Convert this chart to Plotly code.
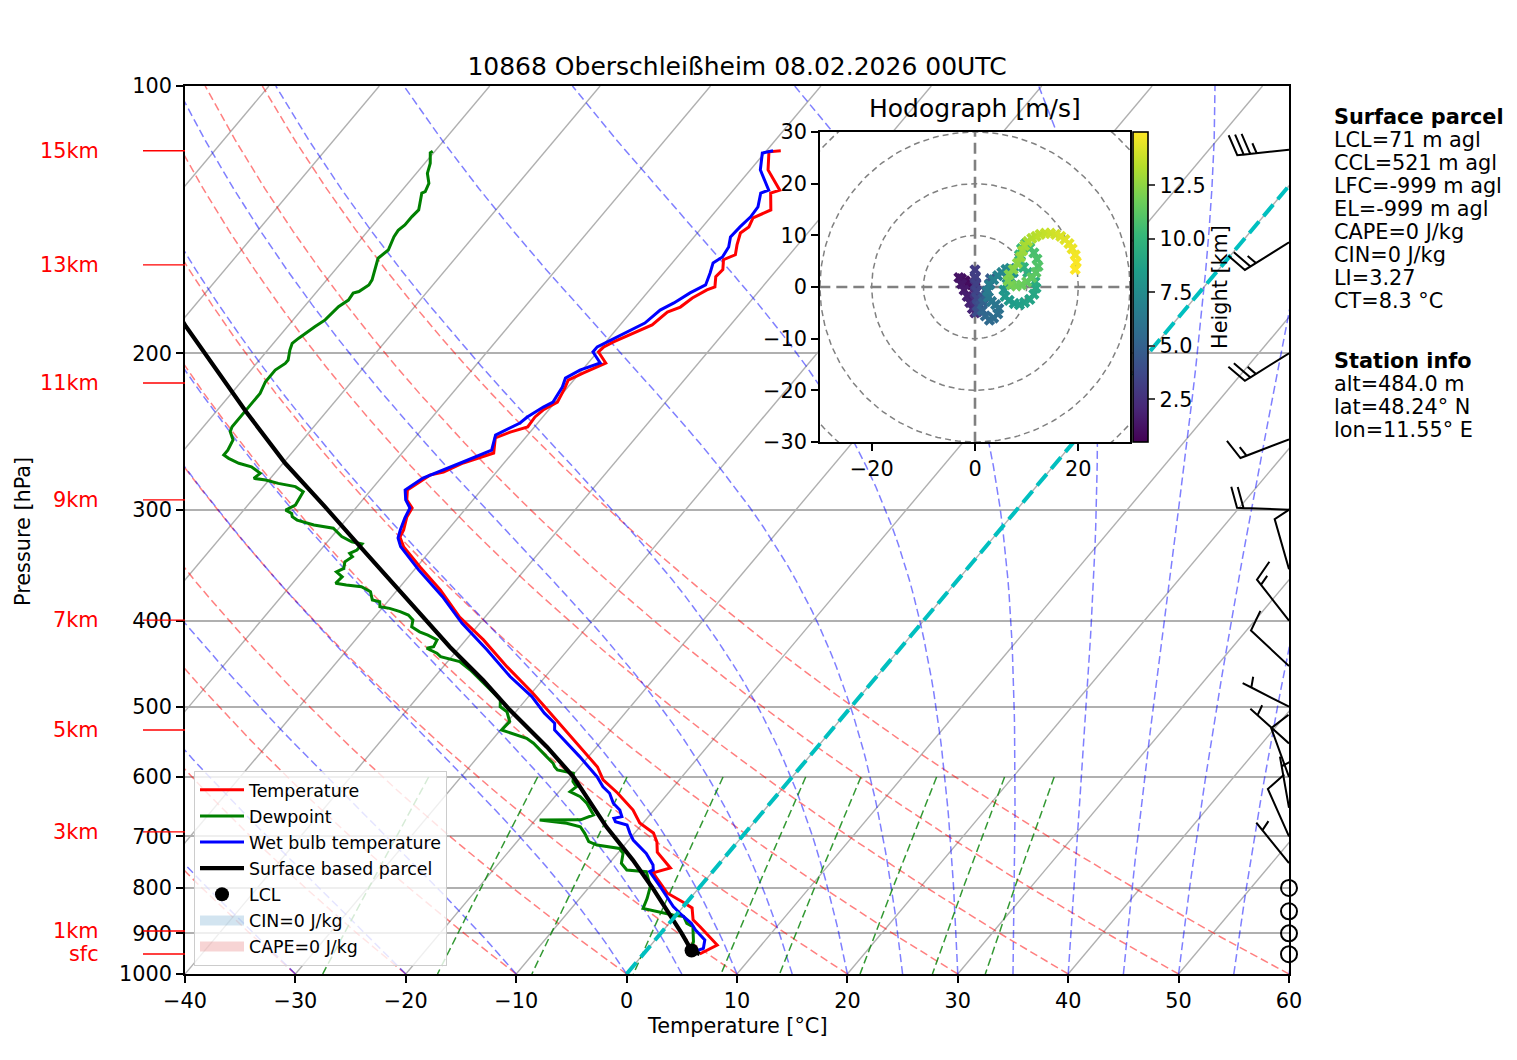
import numpy as np
import plotly.graph_objects as go

# ---------------------------------------------------------------- data
title_text = "10868 Oberschleißheim 08.02.2026 00UTC"

# temperature profile, surface -> top  [hPa], [°C]
temp_p = [949.5, 927.6, 885.3, 869.0, 842.5, 829.5, 810.5, 769.4, 759.7,
          729.0, 710.2, 693.8, 676.1, 653.6, 625.4, 604.6, 584.6, 555.0, 535.2,
          504.1, 482.5, 451.0, 420.5, 396.3, 369.5, 348.0, 330.4, 322.0, 316.2,
          305.7, 298.7, 292.5, 285.1, 274.3, 272.1, 265.8, 261.7, 259.0, 249.1,
          245.3, 242.1, 235.9, 231.7, 227.0, 218.9, 214.4, 210.5, 205.1, 199.3,
          196.7, 194.2, 189.7, 185.8, 179.7, 177.4, 173.3, 169.7, 168.4, 164.0,
          161.0, 156.9, 154.9, 151.0, 146.4, 144.1, 140.8, 137.9, 132.0, 131.0,
          124.3, 118.6, 118.3]
temp_t = [5.1, 6.0, 3.1, 1.9, 0.9, -0.4, -2.5, -5.3, -4.1,
          -6.5, -7.3, -8.3, -10.3, -11.9, -14.6, -16.9, -18.4, -21.5, -23.7,
          -27.3, -29.9, -34.2, -38.4, -42.3, -46.1, -49.7, -52.7, -53.8, -54.0,
          -54.7, -54.9, -56.0, -56.7, -55.8, -54.8, -53.7, -52.6, -51.7, -52.7,
          -51.8, -50.6, -50.7, -50.5, -49.8, -50.2, -50.5, -49.7, -48.4, -49.9,
          -49.8, -49.3, -48.2, -47.1, -46.7, -45.9, -45.5, -44.8, -44.3, -45.0,
          -44.9, -45.6, -44.9, -45.5, -46.1, -45.8, -46.1, -45.1, -46.4, -45.8,
          -48.4, -49.7, -48.7]

# wet bulb temperature
wetbulb_p = [949.5, 939.7, 935.6, 915.7, 892.3, 876.9, 858.1, 839.7, 797.4, 767.0,
             763.6, 753.9, 731.5, 719.0, 706.5, 694.4, 679.6, 673.8, 667.9, 665.1,
             653.6, 642.3, 625.8, 615.3, 599.5, 569.1, 549.7, 531.1, 522.0, 508.5,
             487.1, 462.4, 431.6, 402.8, 375.9, 350.7, 330.2, 322.8, 316.2, 306.5,
             298.7, 292.5, 285.1, 276.4, 265.1, 257.1, 247.2, 239.6, 235.9, 229.9,
             227.0, 218.3, 213.3, 208.9, 205.1, 199.3, 196.7, 193.2, 188.3, 184.9,
             178.8, 175.5, 171.0, 167.5, 162.4, 158.2, 155.8, 151.8, 147.9, 144.1,
             140.4, 136.8, 132.0, 131.0, 124.3, 119.0, 118.3]
wetbulb_t = [4.7, 4.7, 5.0, 4.5, 2.9, 2.0, 0.5, -0.9, -3.6, -5.7,
             -5.5, -5.9, -7.4, -8.5, -9.6, -10.4, -11.3, -12.6, -13.0, -12.4,
             -13.1, -14.2, -15.3, -16.4, -17.7, -20.8, -23.0, -25.1, -25.6, -27.3,
             -29.7, -33.2, -37.3, -41.6, -45.4, -49.6, -53.0, -53.9, -54.3, -54.8,
             -55.1, -56.1, -56.9, -56.2, -53.8, -52.1, -52.9, -51.6, -51.4, -50.7,
             -50.2, -50.5, -50.9, -50.2, -48.9, -50.4, -50.4, -49.7, -48.7, -47.9,
             -47.5, -46.8, -46.1, -45.3, -45.8, -46.3, -45.9, -46.1, -46.7, -46.6,
             -46.4, -46.5, -47.3, -46.8, -49.1, -50.2, -49.4]

# dewpoint
dew_p = [949.5, 935.6, 919.7, 907.8, 884.4, 876.9, 861.6, 858.1, 847.4, 843.7,
         821.8, 797.4, 767.0, 763.6, 750.5, 731.5, 722.1, 719.0, 715.8, 709.6,
         694.4, 682.6, 676.6, 670.8, 670.5, 662.1, 642.3, 631.3, 623.2, 615.3,
         607.3, 594.3, 589.2, 584.2, 579.0, 569.1, 559.4, 549.7, 542.7, 538.1,
         531.1, 519.8, 506.6, 500.0, 491.3, 482.9, 474.8, 462.4, 454.6, 444.9,
         439.2, 435.3, 429.7, 427.9, 420.5, 415.3, 411.8, 406.4, 399.4, 394.2,
         390.8, 387.5, 385.9, 380.9, 379.2, 371.1, 366.4, 364.7, 363.1, 357.0,
         352.4, 349.3, 343.4, 338.9, 336.0, 333.1, 327.9, 326.0, 321.7, 314.8,
         312.2, 308.2, 305.5, 302.9, 300.3, 296.4, 290.1, 286.4, 282.6, 280.2,
         277.8, 276.6, 273.0, 268.4, 266.0, 262.6, 260.3, 257.1, 250.4, 245.0,
         241.9, 233.7, 227.7, 221.9, 215.3, 208.9, 205.3, 203.5, 198.3, 194.9,
         192.3, 189.1, 186.6, 183.4, 179.5, 177.2, 174.2, 171.1, 170.4, 167.5,
         165.3, 158.4, 156.3, 153.0, 147.8, 145.4, 143.4, 140.3, 137.9, 135.5,
         132.0, 131.5, 128.7, 125.4, 122.2, 118.9, 118.4]
dew_t = [4.5, 3.9, 3.6, 3.2, 2.4, 1.6, 0.8, -0.3, -2.5, -3.5,
         -3.9, -4.5, -6.0, -7.9, -8.9, -9.5, -10.2, -11.2, -12.5, -13.5,
         -14.5, -15.4, -16.9, -19.6, -15.9, -15.1, -16.6, -17.7, -19.0, -18.8,
         -19.5, -20.1, -21.8, -22.3, -22.7, -23.8, -24.9, -26.0, -27.0, -28.1,
         -29.9, -29.8, -30.8, -31.8, -32.3, -33.4, -34.5, -36.2, -37.3, -38.9,
         -41.0, -41.6, -42.9, -42.4, -42.6, -43.8, -44.8, -45.9, -46.3, -47.1,
         -48.1, -49.3, -50.3, -50.7, -51.5, -52.3, -53.5, -55.0, -56.1, -56.0,
         -56.9, -56.5, -56.9, -56.6, -57.1, -56.7, -56.7, -57.8, -59.1, -60.5,
         -62.5, -64.4, -65.1, -65.4, -66.2, -65.7, -65.9, -66.0, -67.1, -68.9,
         -70.3, -71.5, -71.3, -72.6, -74.0, -75.3, -76.0, -76.0, -76.3, -77.2,
         -77.4, -77.4, -77.4, -77.4, -77.8, -77.8, -77.4, -77.4, -78.0, -78.3,
         -78.1, -77.7, -77.5, -77.1, -77.0, -76.9, -76.5, -76.6, -76.2, -75.8,
         -75.9, -76.7, -77.0, -76.7, -77.2, -77.3, -77.1, -77.1, -77.0, -77.4,
         -78.0, -77.8, -78.1, -79.0, -79.5, -80.3, -80.2]

# surface based parcel
parcel_p = [949.5, 941.0, 900.0, 800.0, 744.3, 683.2, 600.0, 555.0, 504.1,
            466.5, 428.3, 371.4, 331.6, 297.7, 266.0, 232.6, 186.6, 150.0]
parcel_t = [5.1, 4.1, 1.9, -4.2, -8.1, -13.0, -19.8, -24.5, -30.7,
            -35.4, -40.9, -49.6, -56.4, -62.9, -69.8, -77.3, -89.2, -100.3]
lcl_p = [941.0]
lcl_t = [4.1]

# wind barbs (direction in deg, speed in kt)
barb_p = [950, 900, 850, 800, 750, 700, 650, 600, 550, 500, 450, 400, 350, 300, 250, 200, 150, 118]
barb_dir = [0, 0, 0, 0, 321, 336, 350, 340, 312, 297, 313, 322, 344, 272, 249, 238, 238, 264]
barb_spd = [0, 0, 0, 0, 5, 10, 5, 10, 5, 5, 10, 15, 10, 20, 15, 25, 25, 35]

# hodograph (height km, u/v m/s)
hodo_h = [0.50, 0.65, 0.80, 0.95, 1.10, 1.25, 1.40, 1.55, 1.70, 1.85,
          2.00, 2.15, 2.30, 2.45, 2.60, 2.75, 2.90, 3.05, 3.20, 3.35,
          3.50, 3.65, 3.80, 3.95, 4.10, 4.25, 4.40, 4.55, 4.70, 4.85,
          5.00, 5.15, 5.30, 5.45, 5.60, 5.75, 5.90, 6.05, 6.20, 6.35,
          6.50, 6.65, 6.80, 6.95, 7.10, 7.25, 7.40, 7.55, 7.70, 7.85,
          8.00, 8.15, 8.30, 8.45, 8.60, 8.75, 8.90, 9.05, 9.20, 9.35,
          9.50, 9.65, 9.80, 9.95, 10.10, 10.25, 10.40, 10.55, 10.70, 10.85,
          11.00, 11.15, 11.30, 11.45, 11.60, 11.75, 11.90, 12.05, 12.20, 12.35,
          12.50, 12.65, 12.80, 12.95, 13.10, 13.25, 13.40, 13.55, 13.70, 13.85,
          14.00, 14.15, 14.30, 14.45, 14.60, 14.75, 14.90, 15.00]
hodo_u = [0.0, -0.6, -1.2, -1.9, -2.6, -3.1, -2.6, -2.1, -1.5, -1.0,
          -0.5, 0.0, 0.0, 0.0, 0.0, 0.0, 0.0, 0.0, 0.1, 0.2,
          0.3, 0.4, 0.5, 0.4, 1.0, 1.6, 2.2, 2.8, 3.0, 2.2,
          1.6, 1.4, 2.0, 2.8, 3.6, 4.4, 4.6, 4.0, 3.2, 2.6,
          2.4, 2.8, 3.6, 4.4, 5.2, 6.0, 6.8, 7.4, 7.0, 6.2,
          5.6, 5.8, 6.6, 7.6, 8.6, 9.6, 10.6, 11.4, 11.8, 11.6,
          11.0, 10.2, 9.4, 8.8, 8.6, 9.0, 9.8, 10.6, 11.4, 12.0,
          12.2, 11.8, 11.0, 10.0, 9.0, 8.0, 7.0, 6.4, 6.6, 7.4,
          8.2, 8.8, 9.2, 9.6, 10.2, 11.0, 11.8, 12.6, 13.6, 14.6,
          15.6, 16.6, 17.4, 18.2, 18.8, 19.4, 19.6, 19.4]
hodo_v = [0.0, 0.4, 0.8, 1.2, 1.6, 1.8, 0.6, -0.6, -1.8, -3.0,
          -4.2, -5.0, -3.8, -2.4, -1.0, 0.4, 1.8, 3.3, 2.0, 0.6,
          -0.8, -2.2, -3.6, -4.8, -3.6, -2.2, -0.8, 0.6, 1.6, -1.5,
          -3.0, -4.5, -5.6, -6.4, -6.0, -5.2, -4.2, -3.4, -2.8, -2.0,
          -0.8, 0.4, 1.4, 2.2, 2.8, 3.4, 3.6, 2.8, 1.6, 0.6,
          -0.6, -1.8, -2.6, -3.2, -3.4, -3.0, -2.4, -1.4, -0.2, 1.0,
          2.0, 2.8, 3.8, 5.0, 6.2, 7.4, 8.4, 7.6, 6.6, 5.4,
          4.0, 2.8, 1.8, 1.0, 0.4, 0.2, 0.4, 1.2, 2.4, 3.4,
          4.6, 5.8, 7.0, 8.0, 8.8, 9.4, 9.8, 10.2, 10.4, 10.4,
          10.2, 9.8, 9.2, 8.4, 7.4, 6.2, 4.8, 3.4]

# height markers on the pressure axis
height_labels = ["sfc", "1km", "3km", "5km", "7km", "9km", "11km", "13km", "15km"]
height_p = [949.5, 894.6, 691.8, 531.2, 399.5, 292.5, 216.0, 159.0, 118.3]

pressure_ticks = [100, 200, 300, 400, 500, 600, 700, 800, 900, 1000]
temp_ticks = [-40, -30, -20, -10, 0, 10, 20, 30, 40, 50, 60]
mixing_ratios = [0.0004, 0.001, 0.002, 0.004, 0.007, 0.01, 0.016, 0.024, 0.032]

parcel_info = ["LCL=71 m agl", "CCL=521 m agl", "LFC=-999 m agl", "EL=-999 m agl",
               "CAPE=0 J/kg", "CIN=0 J/kg", "LI=3.27", "CT=8.3 °C"]
station_info = ["alt=484.0 m", "lat=48.24° N", "lon=11.55° E"]

# ---------------------------------------------------------------- geometry
W, H = 1517, 1060
ML, MR, MT, MB = 185, 228, 86, 86
PW, PH = W - ML - MR, H - MT - MB
X_MIN, X_MAX = -40, 60
P_BOT, P_TOP = 1000.0, 100.0
SKEW = 67.6          # x-shift (°C) per decade of pressure
FONT = "DejaVu Sans"
FS = 20.8

px_per_deg = PW / (X_MAX - X_MIN)
px_per_dec = PH / np.log10(P_BOT / P_TOP)


def skew_x(t, p):
    return np.asarray(t, float) + SKEW * np.log10(P_BOT / np.asarray(p, float))


def paper_x(px):
    return (px - ML) / PW


def paper_y(py):
    return (H - MB - py) / PH


def joined(lines):
    xs, ys = [], []
    for x, y in lines:
        xs += list(x) + [None]
        ys += list(y) + [None]
    return xs, ys


def moist_adiabat(t0, p):
    rd, cp, lv, eps = 287.04749, 1004.6662, 2.50084e6, 0.62196

    def rate(T, pp):
        es = 6.112 * np.exp(17.67 * (T - 273.15) / (T - 29.65))
        rs = eps * es / (pp - es)
        return (rd * T + lv * rs) / (cp + lv * lv * rs * eps / (rd * T * T)) / pp

    T = t0 + 273.15
    out = [T]
    for i in range(1, len(p)):
        n = 6
        h = (p[i] - p[i - 1]) / n
        pp = p[i - 1]
        for _ in range(n):
            k1 = rate(T, pp)
            k2 = rate(T + h / 2 * k1, pp + h / 2)
            k3 = rate(T + h / 2 * k2, pp + h / 2)
            k4 = rate(T + h * k3, pp + h)
            T += h / 6 * (k1 + 2 * k2 + 2 * k3 + k4)
            pp += h
        out.append(T)
    return np.array(out) - 273.15


def barb_verts(wdir, spd, L=52.0):
    spacing, fh, fw = 0.125 * L, 0.4 * L, 0.25 * L
    u = -spd * np.sin(np.radians(wdir))
    v = -spd * np.cos(np.radians(wdir))
    mag = 5 * round(spd / 5)
    nflags = int(mag // 50)
    mag -= 50 * nflags
    nbarbs = int(mag // 10)
    mag -= 10 * nbarbs
    half = mag >= 5
    verts = [(0.0, 0.0)]
    off = L
    for _ in range(nflags):
        if off != L:
            off += spacing / 2
        verts += [(0, off), (fh, off - fw / 2), (0, off - fw)]
        off -= fw + spacing
    for _ in range(nbarbs):
        verts += [(0, off), (fh, off + fw / 2), (0, off)]
        off -= spacing
    if half:
        if off == L:
            verts.append((0, off))
            off -= 1.5 * spacing
        verts += [(0, off), (fh / 2, off + fw / 4), (0, off)]
    verts.append((0.0, 0.0))
    th = np.arctan2(v, u) + np.pi / 2
    vx = np.array([a for a, b in verts])
    vy = np.array([b for a, b in verts])
    return vx * np.cos(th) - vy * np.sin(th), vx * np.sin(th) + vy * np.cos(th)


fig = go.Figure()

# ---------------------------------------------------------------- background lines
iso = [(skew_x([t, t], [P_BOT, P_TOP]), [P_BOT, P_TOP]) for t in range(-130, 61, 10)]
xs, ys = joined(iso)
fig.add_trace(go.Scatter(x=xs, y=ys, mode="lines", hoverinfo="skip", showlegend=False,
                         line=dict(color="#b0b0b0", width=1.4)))

p_full = np.linspace(P_BOT, P_TOP, 60)
dry = [(skew_x((t0 + 273.15) * (p_full / 1000.0) ** 0.28571 - 273.15, p_full), p_full)
       for t0 in range(-40, 61, 10)]
xs, ys = joined(dry)
fig.add_trace(go.Scatter(x=xs, y=ys, mode="lines", hoverinfo="skip", showlegend=False,
                         line=dict(color="rgba(255,0,0,0.5)", width=1.5, dash="8px,4px")))

moist_t0 = [-40, -30, -20, -10] + list(range(0, 61, 5))
moist = [(skew_x(moist_adiabat(t0, p_full), p_full), p_full) for t0 in moist_t0]
xs, ys = joined(moist)
fig.add_trace(go.Scatter(x=xs, y=ys, mode="lines", hoverinfo="skip", showlegend=False,
                         line=dict(color="rgba(0,0,255,0.5)", width=1.5, dash="8px,4px")))

p_mix = np.linspace(600, P_BOT, 30)
mix = []
for w in mixing_ratios:
    e = p_mix * w / (0.62196 + w)
    le = np.log(e / 6.112)
    td = 243.5 * le / (17.67 - le)
    mix.append((skew_x(td, p_mix), p_mix))
xs, ys = joined(mix)
fig.add_trace(go.Scatter(x=xs, y=ys, mode="lines", hoverinfo="skip", showlegend=False,
                         line=dict(color="rgba(0,128,0,0.8)", width=1.5, dash="8px,4px")))

# ---------------------------------------------------------------- profiles
fig.add_trace(go.Scatter(x=skew_x(temp_t, temp_p), y=temp_p, mode="lines", name="Temperature",
                         legendgroup="a", line=dict(color="#ff0000", width=3)))
fig.add_trace(go.Scatter(x=skew_x(dew_t, dew_p), y=dew_p, mode="lines", name="Dewpoint",
                         legendgroup="b", line=dict(color="#008000", width=3)))
fig.add_trace(go.Scatter(x=skew_x(wetbulb_t, wetbulb_p), y=wetbulb_p, mode="lines",
                         legendgroup="c", name="Wet bulb temperature",
                         line=dict(color="#0000ff", width=3)))
fig.add_trace(go.Scatter(x=skew_x(parcel_t, parcel_p), y=parcel_p, mode="lines",
                         legendgroup="d", name="Surface based parcel",
                         line=dict(color="black", width=4.2)))
fig.add_trace(go.Scatter(x=skew_x(lcl_t, lcl_p), y=lcl_p, mode="markers", name="LCL",
                         legendgroup="e", marker=dict(color="black", size=14)))
fig.add_trace(go.Scatter(x=[None], y=[None], mode="lines", name="CIN=0 J/kg", legendgroup="f",
                         line=dict(color="rgba(31,119,180,0.2)", width=10)))
fig.add_trace(go.Scatter(x=[None], y=[None], mode="lines", name="CAPE=0 J/kg", legendgroup="g",
                         line=dict(color="rgba(214,39,40,0.2)", width=10)))

# 0 °C isotherm
fig.add_trace(go.Scatter(x=skew_x([0, 0], [P_BOT, P_TOP]), y=[P_BOT, P_TOP], mode="lines",
                         hoverinfo="skip", showlegend=False,
                         line=dict(color="#00bfbf", width=4, dash="15px,7px")))

# ---------------------------------------------------------------- wind barbs
bx, by, calm_p = [], [], []
for p0, d, s in zip(barb_p, barb_dir, barb_spd):
    if 5 * round(s / 5) == 0:
        calm_p.append(p0)
        continue
    X, Y = barb_verts(d, s)
    bx += list(X_MAX + X / px_per_deg) + [None]
    by += list(p0 * 10 ** (-Y / px_per_dec)) + [None]
fig.add_trace(go.Scatter(x=bx, y=by, mode="lines", hoverinfo="skip", showlegend=False,
                         line=dict(color="black", width=2)))
fig.add_trace(go.Scatter(x=[X_MAX] * len(calm_p), y=calm_p, mode="markers", cliponaxis=False,
                         hoverinfo="skip", showlegend=False,
                         marker=dict(symbol="circle-open", size=16, color="black",
                                     line=dict(width=2, color="black"))))

# height ticks and labels left of the axis
for lab, p0 in zip(height_labels, height_p):
    fig.add_shape(type="line", xref="paper", x0=paper_x(143), x1=0, yref="y", y0=p0, y1=p0,
                  line=dict(color="red", width=1.4))
    fig.add_annotation(x=paper_x(101), xref="paper", xanchor="right", y=np.log10(p0), yref="y",
                       yanchor="middle", text=lab, showarrow=False,
                       font=dict(color="red", size=FS, family=FONT))

# ---------------------------------------------------------------- hodograph
th = np.linspace(0, 2 * np.pi, 240)
rings = [(r * np.cos(th), r * np.sin(th)) for r in (10, 20, 30, 40)]
xs, ys = joined(rings)
fig.add_trace(go.Scatter(x=xs, y=ys, xaxis="x2", yaxis="y2", mode="lines", hoverinfo="skip",
                         showlegend=False, line=dict(color="gray", width=1.5, dash="6px,4px")))
fig.add_trace(go.Scatter(x=[-40, 40, None, 0, 0], y=[0, 0, None, -40, 40], xaxis="x2", yaxis="y2",
                         mode="lines", hoverinfo="skip", showlegend=False,
                         line=dict(color="gray", width=2.6, dash="11px,6px")))
fig.add_trace(go.Scatter(
    x=hodo_u, y=hodo_v, xaxis="x2", yaxis="y2", mode="markers", showlegend=False,
    marker=dict(symbol="x", size=10, color=hodo_h, colorscale="Viridis",
                cmin=min(hodo_h), cmax=max(hodo_h), line=dict(width=0),
                colorbar=dict(x=paper_x(1133), xanchor="left", xpad=0, thickness=15,
                              y=paper_y(132), yanchor="top", ypad=0, len=310 / PH,
                              lenmode="fraction", outlinewidth=1.6, outlinecolor="black",
                              ticks="outside", ticklen=7, tickwidth=1.6,
                              tickvals=[2.5, 5, 7.5, 10, 12.5],
                              ticktext=["2.5", "5.0", "7.5", "10.0", "12.5"],
                              tickfont=dict(size=FS, family=FONT, color="black"),
                              title=dict(text="Height [km]", side="right",
                                         font=dict(size=FS, family=FONT, color="black"))))))

# ---------------------------------------------------------------- layout
axis_common = dict(showline=True, mirror=True, linecolor="black", linewidth=1.7,
                   ticks="outside", ticklen=7, tickwidth=1.7, tickcolor="black",
                   zeroline=False, tickfont=dict(size=FS, family=FONT, color="black"))

fig.update_layout(
    width=W, height=H,
    margin=dict(l=ML, r=MR, t=MT, b=MB),
    paper_bgcolor="white", plot_bgcolor="white",
    font=dict(family=FONT, size=FS, color="black"),
    title=dict(text=title_text, x=0.5, xref="paper", xanchor="center",
               y=1 - 66 / H, yref="container", yanchor="middle",
               font=dict(size=25, family=FONT, color="black")),
    xaxis=dict(range=[X_MIN, X_MAX], tickvals=temp_ticks, showgrid=False, domain=[0, 1],
               **axis_common),
    yaxis=dict(type="log", range=[np.log10(P_BOT), np.log10(P_TOP)], tickvals=pressure_ticks,
               ticktext=[str(v) for v in pressure_ticks], showgrid=True, gridcolor="#b0b0b0",
               gridwidth=1.6, domain=[0, 1], **axis_common),
    xaxis2=dict(domain=[paper_x(820), paper_x(1130)], anchor="y2", range=[-30, 30],
                tickvals=[-20, 0, 20], showgrid=False, **axis_common),
    yaxis2=dict(domain=[paper_y(442), paper_y(132)], anchor="x2", range=[-30, 30],
                tickvals=[-30, -20, -10, 0, 10, 20, 30], showgrid=False, **axis_common),
    legend=dict(x=paper_x(194), y=paper_y(771), xanchor="left", yanchor="top",
                bgcolor="rgba(255,255,255,0.8)", bordercolor="#cccccc", borderwidth=1,
                font=dict(size=17.4, family=FONT, color="black"), itemwidth=44,
                traceorder="grouped", tracegroupgap=0.5),
    showlegend=True,
)

fig.add_annotation(x=0.5, xref="paper", y=paper_y(1026), yref="paper", text="Temperature [°C]",
                   showarrow=False, font=dict(size=FS, family=FONT), yanchor="middle")
fig.add_annotation(x=paper_x(23), xref="paper", y=paper_y(531), yref="paper",
                   text="Pressure [hPa]", textangle=-90, showarrow=False,
                   font=dict(size=FS, family=FONT), xanchor="center", yanchor="middle")
fig.add_annotation(x=0.5, xref="x2 domain", y=1 + 24 / 310, yref="y2 domain",
                   text="Hodograph [m/s]", showarrow=False, yanchor="middle",
                   font=dict(size=25, family=FONT))

# info text on the right
lines = [("<b>Surface parcel</b>", 117)] + [(t, 140 + 23 * i) for i, t in enumerate(parcel_info)]
lines += [("<b>Station info</b>", 361)] + [(t, 384 + 23 * i) for i, t in enumerate(station_info)]
for txt, ypx in lines:
    fig.add_annotation(x=paper_x(1332), xref="paper", xanchor="left", y=paper_y(ypx),
                       yref="paper", yanchor="middle", text=txt, showarrow=False,
                       font=dict(size=FS, family=FONT))

fig.write_html("out.html", config={"displayModeBar": False},
               post_script="document.body.style.margin='0px';")
